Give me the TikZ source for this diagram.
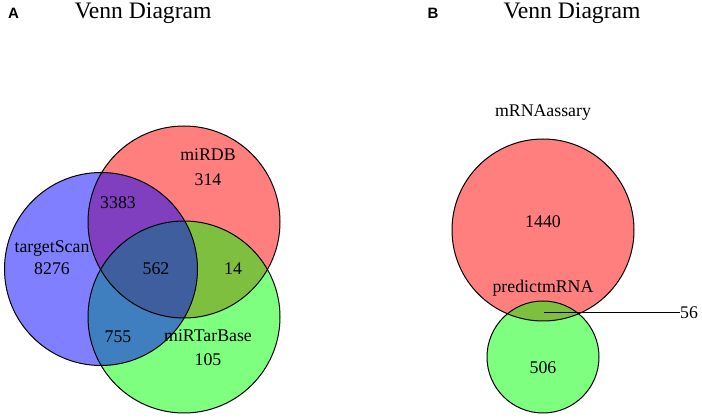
\documentclass[tikz,border=0pt]{standalone}
\usepackage{fontspec}
\setmainfont{Liberation Serif}
\newfontfamily\panelfont{Liberation Sans}
\usetikzlibrary{calc}
\usepackage{xcolor}

\begin{document}
\begin{tikzpicture}[x=1pt,y=-1pt,
			venn/.style={fill opacity=0.5},
			ring/.style={draw=black, line width=1pt},
			lbl/.style={font=\fontsize{17.8}{20}\selectfont, inner sep=0pt},
			title/.style={font=\fontsize{23.6}{26}\selectfont, inner sep=0pt},
			panel/.style={font=\panelfont\bfseries\fontsize{15}{17}\selectfont, inner sep=0pt}]
			\useasboundingbox (0,0) rectangle (702,419);
			% panel A
			\coordinate (rdb) at (184,222);
			\coordinate (rtb) at (184,317);
			\coordinate (tsc) at (101,269);
			\fill[red, venn] (rdb) circle (96pt);
			\fill[green, venn] (rtb) circle (96pt);
			\fill[blue, venn] (tsc) circle (96.5pt);
			\draw[ring] (rdb) circle (96pt);
			\draw[ring] (rtb) circle (96pt);
			\draw[ring] (tsc) circle (96.5pt);
			\node[panel] (pA) at (13.5,13.5) {A};
			\node[title] (tA) at (143,13) {Venn Diagram};
			\node[lbl] (ts) at (52,249) {targetScan};
			\node[lbl] (ts1) at (52,269) {8276};
			\node[lbl] (db) at (208,155) {miRDB};
			\node[lbl] (db1) at (208,180) {314};
			\node[lbl] (tb) at (208,336) {miRTarBase};
			\node[lbl] (tb1) at (208,360) {105};
			\node[lbl] (n3383) at (118,203) {3383};
			\node[lbl] (n562) at (156,269) {562};
			\node[lbl] (n14) at (233,269) {14};
			\node[lbl] (n755) at (118,337) {755};
			% panel B
			\coordinate (ma) at (543,230);
			\coordinate (pm) at (543,357);
			\fill[red, venn] (ma) circle (91pt);
			\fill[green, venn] (pm) circle (56pt);
			\draw[ring] (ma) circle (91pt);
			\draw[ring] (pm) circle (56pt);
			\node[panel] (pB) at (433,13.5) {B};
			\node[title] (tB) at (572,13) {Venn Diagram};
			\node[lbl] (mra) at (543,113) {mRNAassary};
			\node[lbl] (ma1) at (543,222) {1440};
			\node[lbl] (pmr) at (543,288) {predictmRNA};
			\node[lbl] (pm1) at (543,368) {506};
			\coordinate (c56) at (544,312);
			\node[lbl, anchor=west] (n56) at (680,313) {56};
			\draw[line width=0.7pt] (c56) -- (n56.west |- c56);
		\end{tikzpicture}
\end{document}
